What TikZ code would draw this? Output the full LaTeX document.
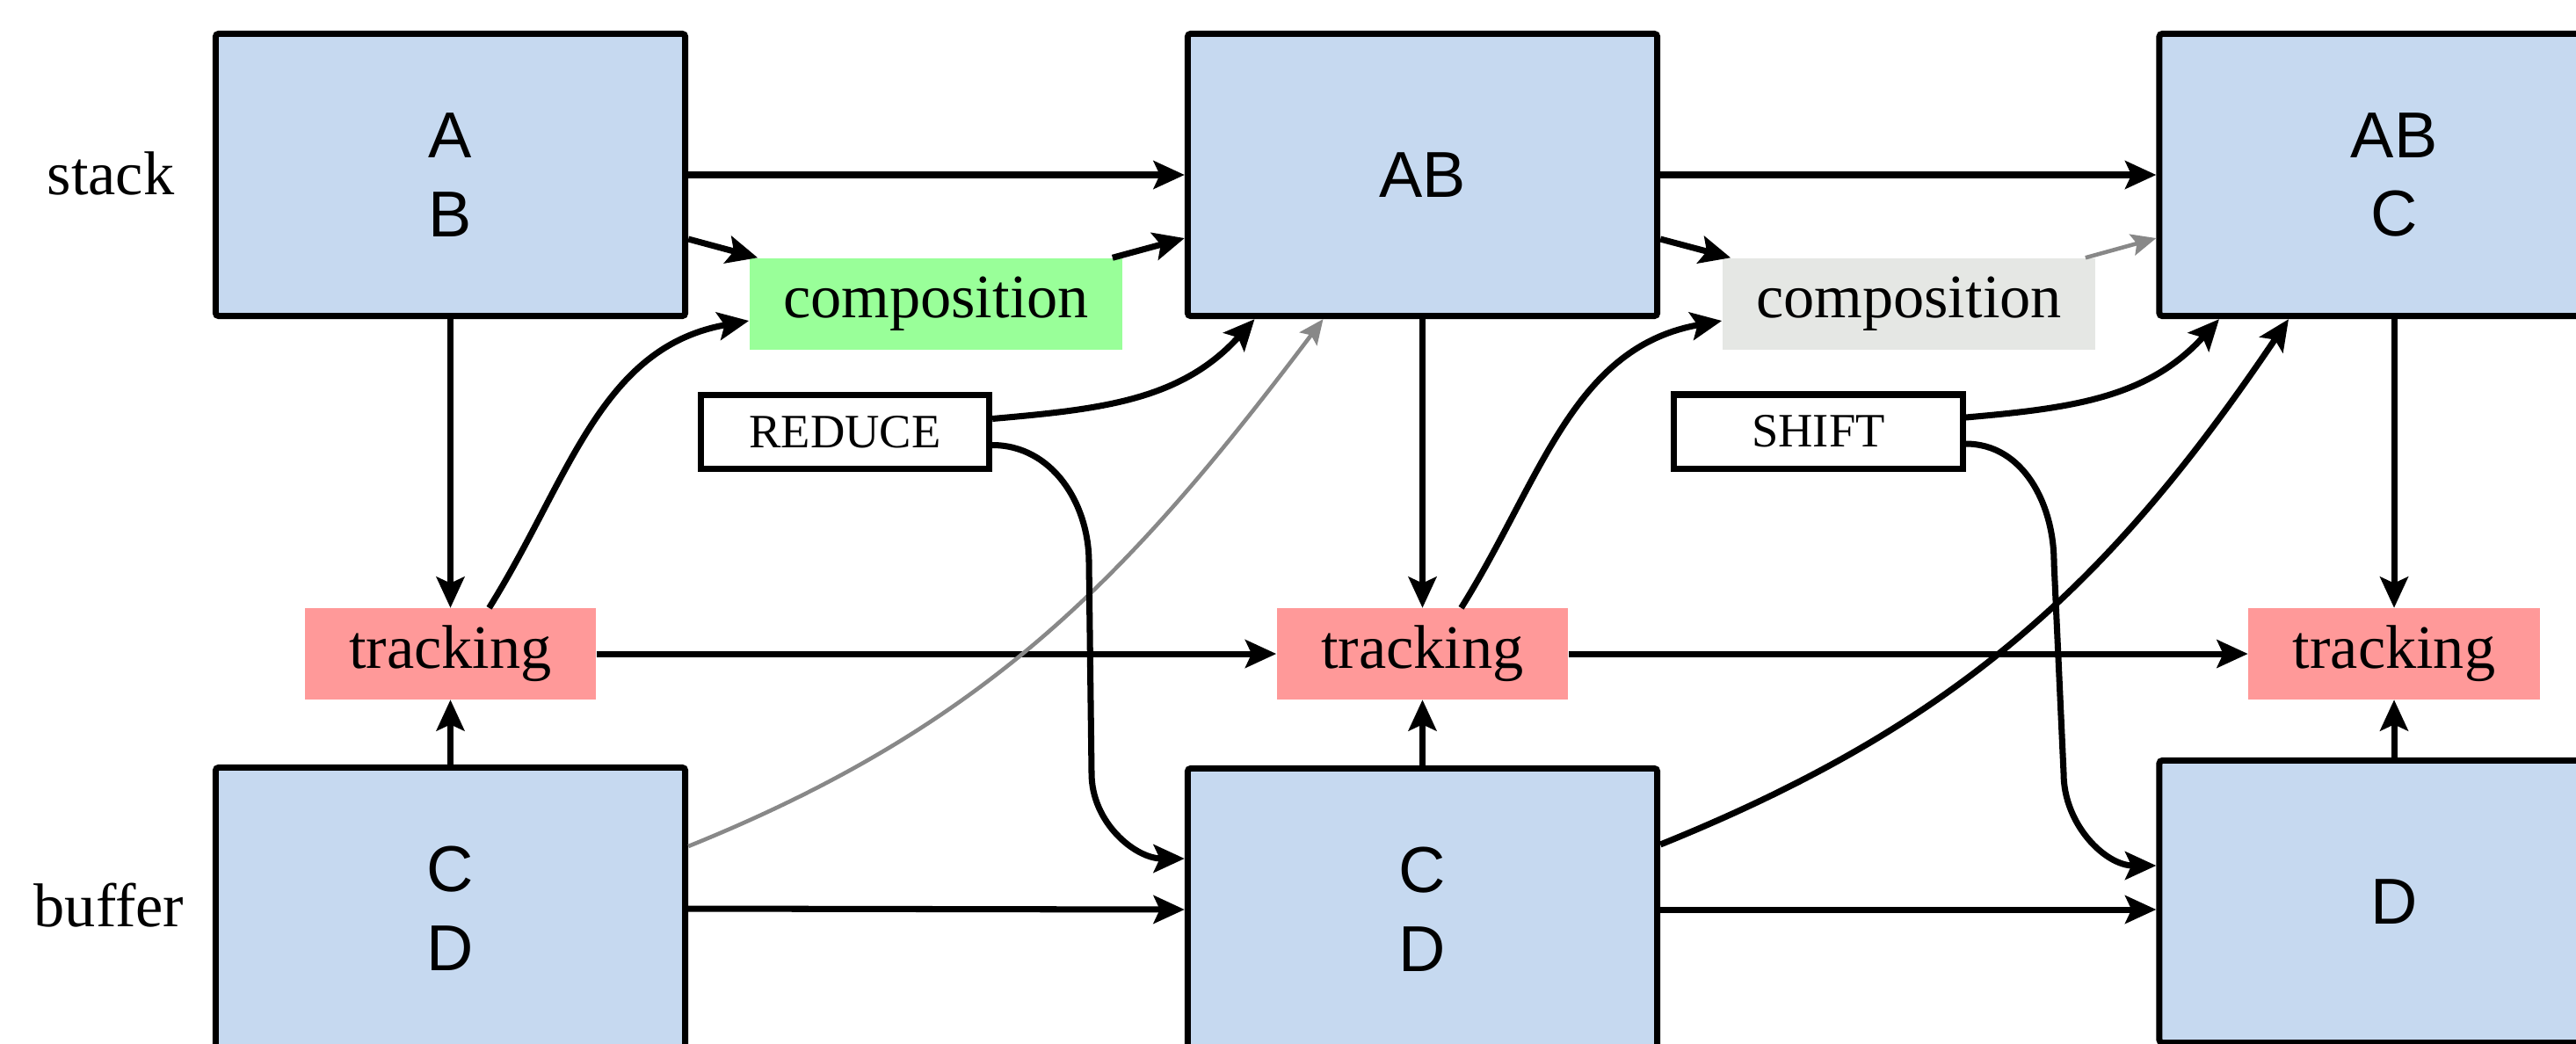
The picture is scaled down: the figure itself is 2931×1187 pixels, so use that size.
\documentclass[tikz,border=0pt]{standalone}
\usepackage{fontspec}
\setmainfont{Liberation Serif}
\newfontfamily\boxfont{Liberation Sans}
\usetikzlibrary{arrows.meta,calc}
\definecolor{stateblue}{HTML}{C6D9F0}
\definecolor{compgreen}{HTML}{99FF99}
\definecolor{compgray}{HTML}{E5E7E4}
\definecolor{trackred}{HTML}{FF9999}
\definecolor{softgray}{HTML}{888888}
\begin{document}
\begin{tikzpicture}[x=0.01cm,y=-0.01cm,
  statebox/.style={draw, line width=2pt, fill=stateblue, rounded corners=1pt,
    minimum width=5.34cm, minimum height=3.21cm, inner sep=0pt, align=center,
    font=\boxfont\fontsize{21}{25.5}\selectfont},
  trackbox/.style={fill=trackred, minimum width=3.31cm, minimum height=1.03cm,
    inner sep=0pt, font=\fontsize{20}{24}\selectfont},
  compbox/.style={minimum width=4.24cm, minimum height=1.04cm, inner sep=0pt,
    font=\fontsize{20}{24}\selectfont},
  actbox/.style={draw, line width=2pt, fill=white, minimum width=3.28cm,
    minimum height=0.84cm, inner sep=0pt, font=\fontsize{15.5}{18}\selectfont},
  rowlabel/.style={anchor=base, inner sep=0pt, font=\fontsize{20}{24}\selectfont},
  arr/.style={line width=2pt, -{Stealth[length=10pt,width=9pt,inset=2pt]}},
  garr/.style={line width=1.3pt, draw=softgray, -{Stealth[length=8pt,width=7pt,inset=1.5pt]}}]

\clip (0,0) rectangle (2931,1187);
\fill[white] (0,0) rectangle (2931,1187);

% row labels
\node[rowlabel] (lstack) at (126,221) {stack};
\node[rowlabel] (lbuffer) at (124,1054) {buffer};

% stack states
\node[statebox] (s1) at (512.5,199) {A\\B};
\node[statebox] (s2) at (1618.5,199) {AB};
\node[statebox] (s3) at (2724,199) {AB\\C};

% buffer states
\node[statebox] (b1) at (512.5,1034) {C\\D};
\node[statebox] (b2) at (1618.5,1035) {C\\D};
\node[statebox] (b3) at (2724,1026) {D};

% tracking units
\node[trackbox] (t1) at (512.5,744) {tracking};
\node[trackbox] (t2) at (1618.5,744) {tracking};
\node[trackbox] (t3) at (2724,744) {tracking};

% composition units
\node[compbox, fill=compgreen] (c1) at (1065,346) {composition};
\node[compbox, fill=compgray] (c2) at (2172,346) {composition};

% transitions
\node[actbox] (red) at (961.5,491.5) {REDUCE};
\node[actbox] (shf) at (2069,491) {SHIFT};

% stack flow
\draw[arr] (s1.east) -- (s2.west);
\draw[arr] (s2.east) -- (s3.west);
\draw[arr] ($(s1.east)+(0,73)$) -- ($(c1.north west)+(10,0)$);
\draw[arr] ($(c1.north east)+(-12,0)$) -- ($(s2.west)+(0,72)$);
\draw[arr] ($(s2.east)+(0,73)$) -- ($(c2.north west)+(10,0)$);
\draw[garr] ($(c2.north east)+(-12,0)$) -- ($(s3.west)+(0,72)$);

% into and out of tracking
\draw[arr] (s1.south) -- (t1.north);
\draw[arr] (s2.south) -- (t2.north);
\draw[arr] (s3.south) -- (t3.north);
\draw[arr] (b1.north) -- (t1.south);
\draw[arr] (b2.north) -- (t2.south);
\draw[arr] (b3.north) -- (t3.south);
\draw[arr] (t1.east) -- (t2.west);
\draw[arr] (t2.east) -- (t3.west);
\draw[arr] ($(t1.north)+(44,0)$) to[out=58,in=190] ($(c1.west)+(0,19)$);
\draw[arr] ($(t2.north)+(44,0)$) to[out=58,in=190] ($(c2.west)+(0,19)$);

% buffer flow
\draw[arr] (b1.east) -- (b2.west);
\draw[arr] (b2.east) -- (b2.east -| b3.west);
\draw[garr] ($(b1.east)+(0,-71)$) to[out=22,in=233] ($(s2.south)+(-113,0)$);
\draw[arr] ($(b2.east)+(0,-74)$) to[out=22,in=236] ($(s3.south)+(-120,0)$);

% transition effects
\draw[arr] ($(red.east)+(0,-15)$) to[out=5,in=228] ($(s2.south)+(-191,0)$);
\draw[arr] ($(shf.east)+(0,-16)$) to[out=5,in=228] ($(s3.south)+(-199,0)$);
\draw[arr] ($(red.east)+(0,15)$) to[out=0,in=90] (1239,640) -- (1242,880)
  to[out=-90,in=180] ($(b2.west)+(0,-58)$);
\draw[arr] ($(shf.east)+(0,14)$) to[out=0,in=90] (2337,640) -- (2348,880)
  to[out=-90,in=180] ($(b3.west)+(0,-41)$);
\end{tikzpicture}
\end{document}
